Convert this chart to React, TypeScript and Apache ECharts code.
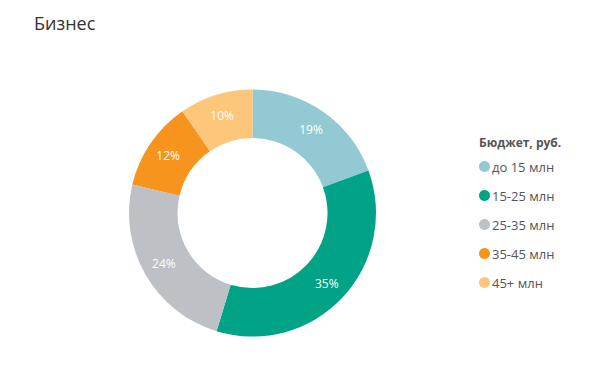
import React, { useEffect, useRef } from "react";
import * as echarts from "echarts";

const categories = ["до 15 млн", "15-25 млн", "25-35 млн", "35-45 млн", "45+ млн"];
const values = [19.4, 35.3, 24.0, 11.7, 9.6];
const colors = ["#92C9D3", "#00A386", "#BDC1C5", "#F7941D", "#FDC67A"];

const FONT = "'Open Sans', 'Noto Sans', sans-serif";

export default function App() {
  const ref = useRef<HTMLDivElement>(null);
  useEffect(() => {
    if (!ref.current) return;
    const chart = echarts.init(ref.current, undefined, { renderer: "svg" });
    chart.setOption({
      animation: false,
      color: colors,
      title: [
        {
          text: "Бизнес",
          left: 29,
          top: 9,
          textStyle: { fontFamily: FONT, fontSize: 18, fontWeight: "normal", color: "#333333" },
        },
        {
          text: "Бюджет, руб.",
          left: 474,
          top: 131,
          textStyle: { fontFamily: FONT, fontSize: 12, fontWeight: "bold", color: "#555555" },
        },
      ],
      legend: {
        orient: "vertical",
        left: 474,
        top: 155,
        icon: "circle",
        itemWidth: 11,
        itemHeight: 11,
        itemGap: 16,
        selectedMode: false,
        textStyle: { fontFamily: FONT, fontSize: 13, color: "#555555", padding: [0, 0, 0, -3] },
        data: categories,
      },
      series: [
        {
          type: "pie",
          center: [252.5, 213],
          radius: [75, 123.5],
          startAngle: 90,
          clockwise: true,
          percentPrecision: 0,
          avoidLabelOverlap: false,
          label: {
            show: true,
            position: "inside",
            formatter: "{d}%",
            color: "#ffffff",
            fontFamily: FONT,
            fontSize: 12,
          },
          labelLine: { show: false },
          itemStyle: { borderWidth: 0 },
          emphasis: { disabled: true },
          data: categories.map((name, i) => ({ name, value: values[i] })),
        },
      ],
    });
    return () => chart.dispose();
  }, []);
  return (
    <div
      ref={ref}
      style={{ position: "absolute", left: 0, top: 0, width: 606, height: 374, background: "#ffffff" }}
    />
  );
}
